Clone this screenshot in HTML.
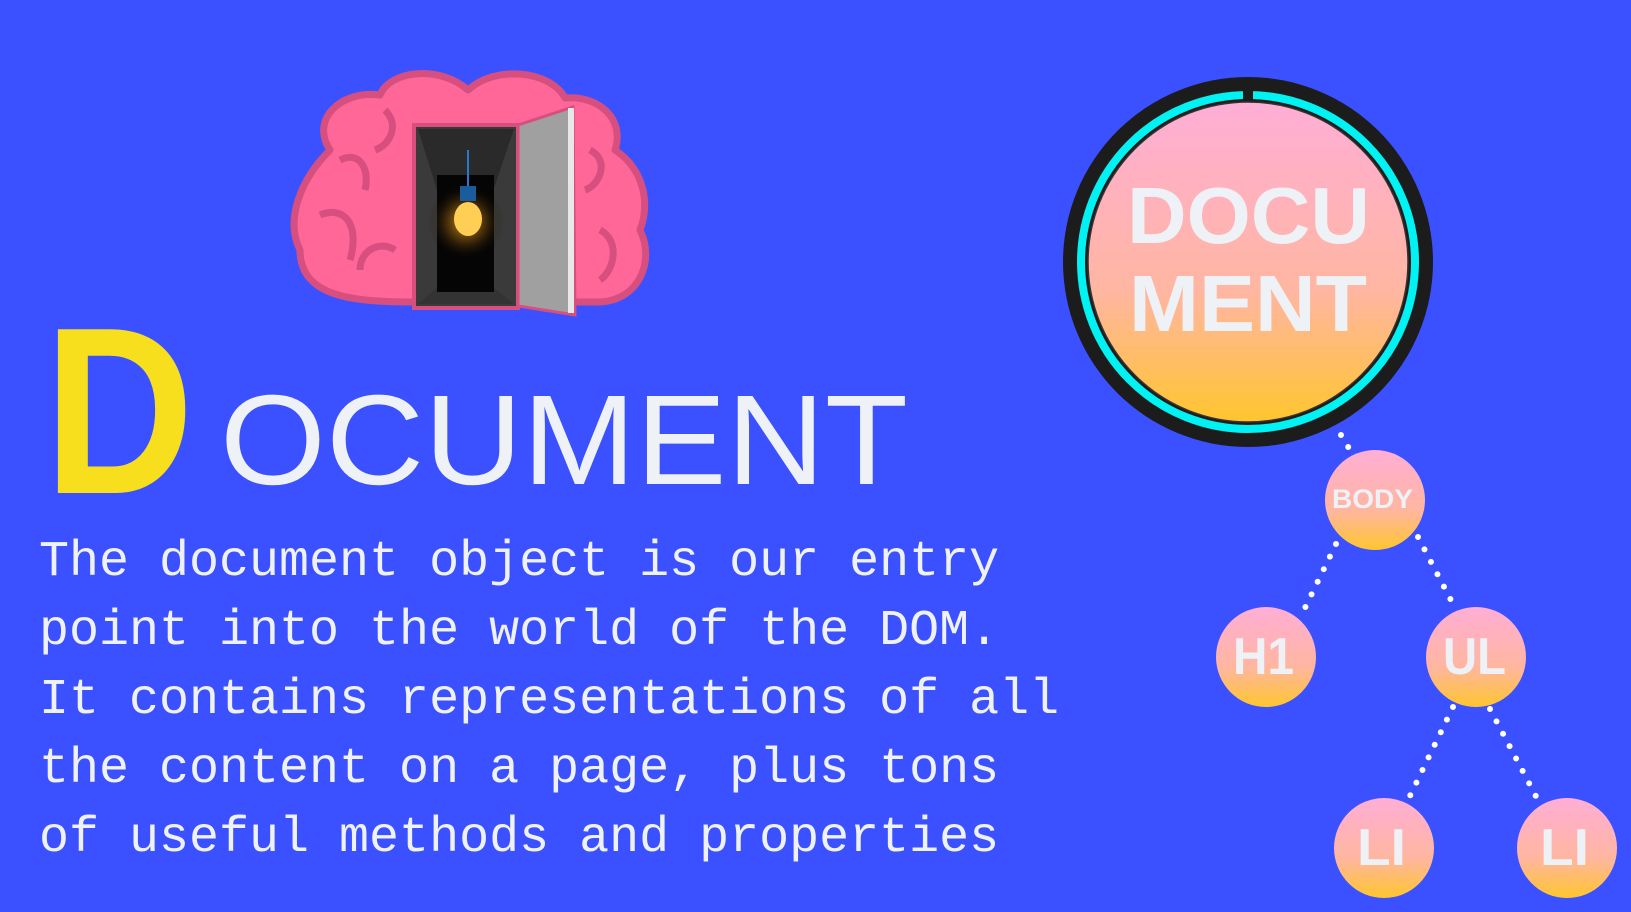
<!DOCTYPE html>
<html><head><meta charset="utf-8"><style>
html,body{margin:0;padding:0;}
body{width:1631px;height:912px;background:#3b50ff;overflow:hidden;position:relative;}
svg{position:absolute;left:0;top:0;}
</style></head><body>
<svg width="1631" height="912" viewBox="0 0 1631 912" xmlns="http://www.w3.org/2000/svg">
<defs>
<linearGradient id="g" x1="0" y1="0" x2="0" y2="1">
<stop offset="0" stop-color="#ffaed6"/><stop offset="0.6" stop-color="#ffb6a0"/><stop offset="1" stop-color="#ffc52e"/>
</linearGradient>
<radialGradient id="glow" cx="0.5" cy="0.5" r="0.5">
<stop offset="0" stop-color="#ffb020" stop-opacity="0.9"/><stop offset="0.5" stop-color="#8a5a10" stop-opacity="0.5"/><stop offset="1" stop-color="#000" stop-opacity="0"/>
</radialGradient>
</defs>
<!-- brain -->
<g stroke="#d64f7f" stroke-width="7" fill="#ff6798" stroke-linejoin="round">
<path d="M330,150 C310,120 340,90 380,95 C390,70 440,65 468,90 C495,65 550,70 565,98 C600,95 625,120 615,150 C645,170 650,205 640,230 C655,260 640,300 600,302 L420,302 C360,302 300,300 300,250 C285,220 300,180 330,150 Z"/>
<path d="M340,160 C360,150 370,170 365,190 M320,215 C345,205 360,225 350,260 M385,110 C400,125 390,145 375,150 M590,150 C610,160 600,185 585,190 M600,230 C620,240 615,270 600,280 M360,270 C360,250 380,240 395,250" fill="none" stroke-width="7"/>
</g>
<rect x="414" y="125" width="104" height="183" fill="#3a3a3a" stroke="#d64f7f" stroke-width="4"/>
<polygon points="418,129 514,129 490,200 440,200" fill="#2a2a2a"/>
<polygon points="418,304 514,304 490,285 440,285" fill="#333"/>
<rect x="437" y="175" width="57" height="117" fill="#050505"/>
<circle cx="466" cy="222" r="38" fill="url(#glow)"/>
<line x1="468" y1="150" x2="468" y2="190" stroke="#2a7acc" stroke-width="2"/>
<rect x="460" y="186" width="16" height="15" fill="#1a5c9c"/>
<ellipse cx="468" cy="219" rx="14" ry="17" fill="#ffcf55"/>
<polygon points="518,125 573,107 575,315 518,306" fill="#a0a0a0" stroke="#d64f7f" stroke-width="3"/>
<rect x="568" y="108" width="6" height="205" fill="#e8e8e8"/>
<!-- title -->
<text x="44" y="493" font-family="Liberation Sans, sans-serif" font-weight="bold" font-size="238" fill="#f7df1e" textLength="150" lengthAdjust="spacingAndGlyphs">D</text>
<text x="220" y="484" font-family="Liberation Sans, sans-serif" font-size="128" fill="#eef1f5" textLength="688" lengthAdjust="spacingAndGlyphs">OCUMENT</text>
<g font-family="Liberation Mono, monospace" font-size="50" fill="#eef1f5">
<text x="39" y="575">The document object is our entry</text>
<text x="39" y="644">point into the world of the DOM.</text>
<text x="39" y="713">It contains representations of all</text>
<text x="39" y="782">the content on a page, plus tons</text>
<text x="39" y="851">of useful methods and properties</text>
</g>
<!-- dots -->
<g stroke="#fff" stroke-width="6" stroke-linecap="round" stroke-dasharray="0 14" fill="none">
<line x1="1341" y1="435" x2="1350" y2="450"/>
<line x1="1336" y1="544" x2="1303" y2="612"/>
<line x1="1418" y1="537" x2="1453" y2="604"/>
<line x1="1453" y1="707" x2="1407" y2="802"/>
<line x1="1490" y1="709" x2="1539" y2="802"/>
</g>
<!-- document circle -->
<circle cx="1248" cy="262" r="185" fill="#1c1c1c"/>
<circle cx="1248" cy="262" r="167" fill="none" stroke="#00f2f2" stroke-width="8"/>
<rect x="1243" y="90" width="10" height="14" fill="#1c1c1c"/>
<circle cx="1248" cy="262" r="160" fill="url(#g)" stroke="#333" stroke-width="1.5"/>
<g font-family="Liberation Sans, sans-serif" font-weight="bold" fill="#eef1f5">
<text x="1127" y="243" font-size="80" textLength="243" lengthAdjust="spacingAndGlyphs">DOCU</text>
<text x="1129" y="331" font-size="80" textLength="238" lengthAdjust="spacingAndGlyphs">MENT</text>
</g>
<!-- nodes -->
<g fill="url(#g)">
<circle cx="1375" cy="500" r="50"/>
<circle cx="1266" cy="657" r="50"/>
<circle cx="1476" cy="657" r="50"/>
<circle cx="1384" cy="848" r="50"/>
<circle cx="1567" cy="848" r="50"/>
</g>
<g font-family="Liberation Sans, sans-serif" font-weight="bold" fill="#eef1f5">
<text x="1332" y="508" font-size="27" textLength="81" lengthAdjust="spacingAndGlyphs">BODY</text>
<text x="1233" y="674" font-size="52" textLength="61" lengthAdjust="spacingAndGlyphs">H1</text>
<text x="1443" y="674" font-size="52" textLength="63" lengthAdjust="spacingAndGlyphs">UL</text>
<text x="1357" y="865" font-size="52" textLength="49" lengthAdjust="spacingAndGlyphs">LI</text>
<text x="1540" y="865" font-size="52" textLength="49" lengthAdjust="spacingAndGlyphs">LI</text>
</g>
</svg>
</body></html>
